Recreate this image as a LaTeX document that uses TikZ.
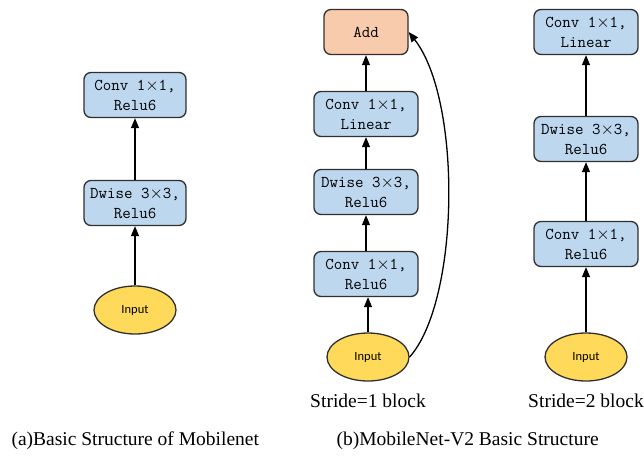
\documentclass[tikz,border=0pt]{standalone}
\usepackage{fontspec}
\setmainfont{Liberation Serif}
\newfontfamily\inputfont{Carlito}
\usetikzlibrary{arrows.meta,shapes.geometric}
\definecolor{boxblue}{HTML}{BDD7EE}
\definecolor{boxorange}{HTML}{F8CBAD}
\definecolor{inyellow}{HTML}{FFD95A}
\definecolor{edge}{HTML}{303030}
\tikzset{
  layer/.style={draw=edge, line width=1.3pt, rounded corners=7pt, fill=boxblue,
    minimum width=104pt, minimum height=45pt, align=center,
    font=\fontsize{16.5}{20}\selectfont\ttfamily, inner sep=1pt},
  addbox/.style={layer, fill=boxorange, minimum width=84pt},
  inp/.style={draw=edge, line width=1.3pt, ellipse, fill=inyellow,
    minimum width=82pt, minimum height=48pt, inner sep=0pt,
    font=\fontsize{12.5}{14}\selectfont\inputfont},
  flow/.style={draw=black, line width=1.3pt, -{Triangle[length=10pt,width=8pt]}},
  captext/.style={font=\fontsize{19.5}{22}\selectfont},
}
\begin{document}
\begin{tikzpicture}[x=1pt, y=-1pt]
  \useasboundingbox (0,0) rectangle (644,456);

  % (a) basic MobileNet block
  \node[layer, minimum width=102pt] (aconv) at (135,95) {Conv 1$\times$1,\\Relu6};
  \node[layer, minimum width=102pt] (adw) at (135,203) {Dwise 3$\times$3,\\Relu6};
  \node[inp] (ain) at (135,310) {Input};
  \draw[flow] (ain) -- (adw);
  \draw[flow] (adw) -- (aconv);

  % (b) stride 1 block with residual connection
  \node[addbox] (badd) at (366,32) {Add};
  \node[layer] (blin) at (366,114) {Conv 1$\times$1,\\Linear};
  \node[layer] (bdw) at (366,192) {Dwise 3$\times$3,\\Relu6};
  \node[layer] (bexp) at (366,274) {Conv 1$\times$1,\\Relu6};
  \node[inp] (bin) at (368,357) {Input};
  \node[captext] (bcap) at (368,401) {Stride=1 block};
  \draw[flow] (bin) -- (bin |- bexp.south);
  \draw[flow] (bexp) -- (bdw);
  \draw[flow] (bdw) -- (blin);
  \draw[flow] (blin) -- (badd);
  \draw[flow] (bin.east) .. controls (460,300) and (462,100) .. (badd.east);

  % (b) stride 2 block
  \node[layer] (clin) at (586,32) {Conv 1$\times$1,\\Linear};
  \node[layer] (cdw) at (586,139) {Dwise 3$\times$3,\\Relu6};
  \node[layer] (cexp) at (586,244) {Conv 1$\times$1,\\Relu6};
  \node[inp] (cin) at (586,357) {Input};
  \node[captext] (ccap) at (586,401) {Stride=2 block};
  \draw[flow] (cin) -- (cexp);
  \draw[flow] (cexp) -- (cdw);
  \draw[flow] (cdw) -- (clin);

  % captions
  \node[captext, anchor=west] (acap) at (8,441) {(a)Basic Structure of Mobilenet};
  \node[captext, anchor=west] (bcapt) at (333,441) {(b)MobileNet-V2 Basic Structure};
\end{tikzpicture}
\end{document}
